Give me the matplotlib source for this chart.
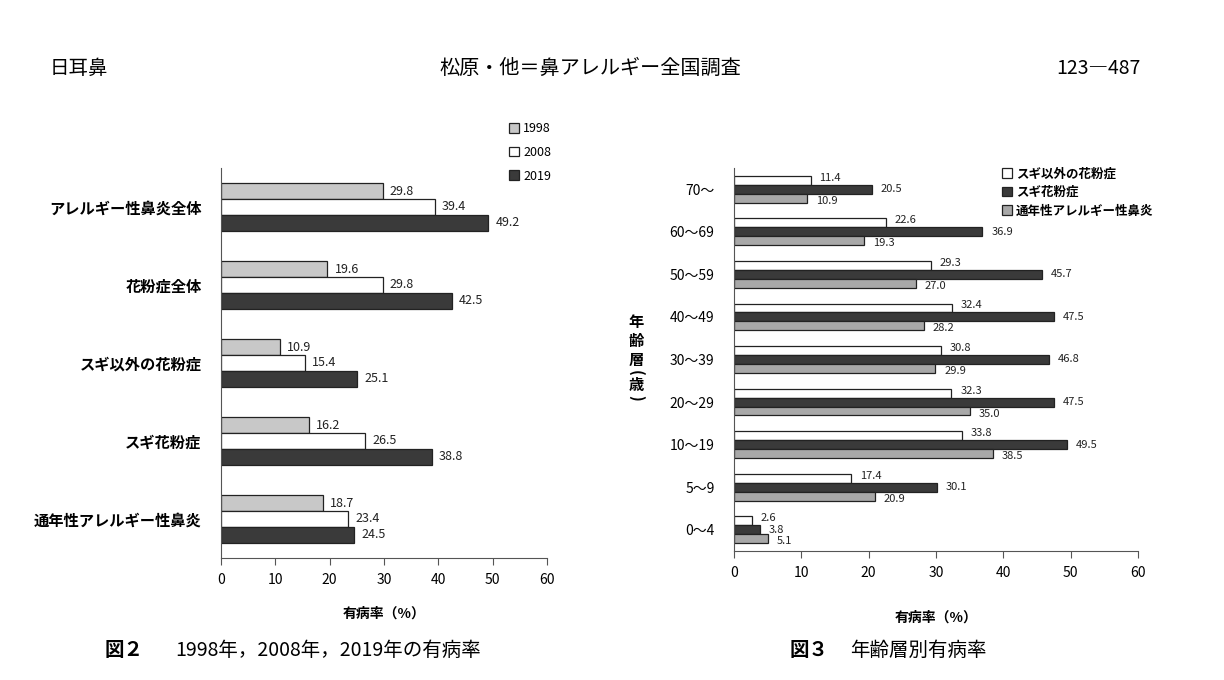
import numpy as np
import matplotlib
matplotlib.use('Agg')
import matplotlib.pyplot as plt

plt.rcParams['font.family'] = ['Noto Sans CJK JP', 'DejaVu Sans']

# fig 2 data
cats2 = ['アレルギー性鼻炎全体', '花粉症全体', 'スギ以外の花粉症', 'スギ花粉症', '通年性アレルギー性鼻炎']
years = ['1998', '2008', '2019']
v1998 = [29.8, 19.6, 10.9, 16.2, 18.7]
v2008 = [39.4, 29.8, 15.4, 26.5, 23.4]
v2019 = [49.2, 42.5, 25.1, 38.8, 24.5]

# fig 3 data
ages = ['70〜', '60〜69', '50〜59', '40〜49', '30〜39', '20〜29', '10〜19', '5〜9', '0〜4']
kinds = ['スギ以外の花粉症', 'スギ花粉症', '通年性アレルギー性鼻炎']
other_pollen = [11.4, 22.6, 29.3, 32.4, 30.8, 32.3, 33.8, 17.4, 2.6]
sugi_pollen = [20.5, 36.9, 45.7, 47.5, 46.8, 47.5, 49.5, 30.1, 3.8]
perennial = [10.9, 19.3, 27.0, 28.2, 29.9, 35.0, 38.5, 20.9, 5.1]

xticks = [0, 10, 20, 30, 40, 50, 60]


def bar_group(ax, series, names, colors, h, fs, spread=0.0):
    n = len(series[0])
    y = np.arange(n)
    k = len(series)
    for i, (vals, nm, c) in enumerate(zip(series, names, colors)):
        off = (i - (k - 1) / 2)
        pos = y + off * h
        ax.barh(pos, vals, height=h, color=c, edgecolor='#222222', linewidth=0.9, label=nm)
        for p, v in zip(pos, vals):
            ax.text(v + 1.3, p + off * spread, '%.1f' % v, va='center', ha='left',
                    fontsize=fs, color='#222222')
    ax.set_xlim(0, 60)
    ax.set_xticks(xticks)
    ax.set_ylim(n - 0.5, -0.5)
    ax.spines['top'].set_visible(False)
    ax.spines['right'].set_visible(False)
    ax.spines['left'].set_color('#555555')
    ax.spines['bottom'].set_color('#555555')
    ax.tick_params(axis='y', length=0, pad=14)
    ax.tick_params(axis='x', direction='out', length=5, color='#555555', labelsize=10, pad=6)


fig = plt.figure(figsize=(12.24, 6.8), dpi=100)

# header
fig.text(50 / 1224, 1 - 68 / 680, '日耳鼻', fontsize=14, va='center', ha='left')
fig.text(590 / 1224, 1 - 68 / 680, '松原・他＝鼻アレルギー全国調査', fontsize=14.5, va='center', ha='center')
fig.text(1140 / 1224, 1 - 68 / 680, '123―487', fontsize=14, va='center', ha='right')

# figure 2
ax1 = fig.add_axes([221 / 1224, 1 - 558 / 680, 326 / 1224, 390 / 680])
bar_group(ax1, [v1998, v2008, v2019], years, ['#c8c8c8', '#ffffff', '#3a3a3a'], 0.205, 9)
ax1.set_yticks(np.arange(len(cats2)))
ax1.set_yticklabels(cats2, fontsize=11, fontweight='bold')
ax1.set_xlabel('有病率（%）', fontsize=10, fontweight='bold', labelpad=14)
ax1.legend(loc='upper left', bbox_to_anchor=(503 / 1224, 1 - 116 / 680), bbox_transform=fig.transFigure,
           frameon=False, fontsize=9, handlelength=0.8, handleheight=0.8, handletextpad=0.3,
           labelspacing=0.85, borderpad=0)
fig.text(105 / 1224, 1 - 650 / 680, '図２', fontsize=14, fontweight='bold', va='center', ha='left')
fig.text(175 / 1224, 1 - 650 / 680, '1998年，2008年，2019年の有病率', fontsize=14, va='center', ha='left')

# figure 3
ax2 = fig.add_axes([734 / 1224, 1 - 551 / 680, 404 / 1224, 383 / 680])
bar_group(ax2, [other_pollen, sugi_pollen, perennial], kinds, ['#ffffff', '#3a3a3a', '#a8a8a8'],
          0.21, 8, spread=0.06)
ax2.set_yticks(np.arange(len(ages)))
ax2.set_yticklabels(ages, fontsize=10)
ax2.set_xlabel('有病率（%）', fontsize=10, fontweight='bold', labelpad=22)
ax2.legend(loc='upper left', bbox_to_anchor=(996 / 1224, 1 - 161 / 680), bbox_transform=fig.transFigure,
           frameon=False, handlelength=0.8, handleheight=0.8, handletextpad=0.3,
           labelspacing=0.45, borderpad=0, prop={'weight': 'bold', 'size': 9})

# vertical axis title, parentheses turned for vertical writing
ylab_chars = ['年', '齢', '層', '(', '歳', ')']
ylab_y = [322, 341, 360, 373, 385, 398]
for ch, yy in zip(ylab_chars, ylab_y):
    rot = -90 if ch in '()' else 0
    fig.text(636 / 1224, 1 - yy / 680, ch, fontsize=11, fontweight='bold', rotation=rot,
             va='center', ha='center')

fig.text(790 / 1224, 1 - 650 / 680, '図３', fontsize=14, fontweight='bold', va='center', ha='left')
fig.text(850 / 1224, 1 - 650 / 680, '年齢層別有病率', fontsize=14, va='center', ha='left')

fig.savefig('out.png', dpi=100)
